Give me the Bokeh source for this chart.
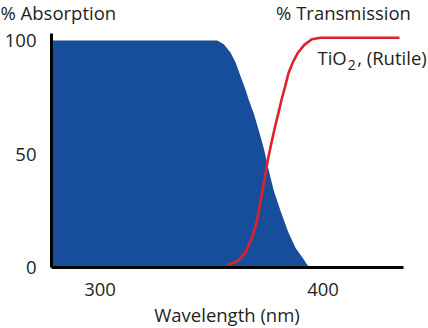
from bokeh.plotting import figure
from bokeh.models import Range1d, FixedTicker, Label
from bokeh.layouts import column
from bokeh.embed import file_html
from bokeh.resources import INLINE

# Absorption curve (blue filled area)
abs_wavelength = [278.25, 352.6, 355.5, 358.5, 360.8, 363.0, 365.2, 366.7, 369.0, 371.2,
                  373.5, 375.7, 377.9, 380.9, 381.7, 384.3, 387.7, 390.7, 392.6, 394.0]
absorption = [100, 100, 98.4, 94.7, 90.3, 84.4, 78.5, 73.9, 67.7, 60.4,
              52.3, 42.7, 33.9, 25.1, 22.9, 15.9, 8.6, 4.5, 1.6, 0]

# Transmission curve of TiO2 (rutile), red line
trans_wavelength = [357.0, 358.5, 362.2, 365.3, 368.3, 370.4, 372.1, 373.7, 375.2, 377.1,
                    378.5, 380.0, 381.4, 383.0, 384.5, 386.3, 388.6, 391.6, 395.0, 398.9, 434.3]
transmission = [1.3, 1.5, 3.1, 6.7, 13.4, 20.7, 29.5, 38.3, 47.1, 56.0,
                62.1, 68.0, 73.9, 79.7, 85.6, 90.0, 94.4, 98.1, 100.6, 101.2, 101.2]

x_ticks = [300, 400]
y_ticks = [0, 50, 100]
x_axis_span = (278.25, 436.1)
y_axis_span = (0, 103.1)

FONT = "Open Sans"
TXT = "#231f20"
BLUE = "#174e9c"
RED = "#e1202d"
FS = "18.5px"


def strip(h):
    f = figure(width=428, height=h, output_backend="svg", toolbar_location=None,
               x_range=Range1d(0, 428), y_range=Range1d(0, h),
               x_axis_location=None, y_axis_location=None,
               min_border_left=0, min_border_right=0, min_border_top=0, min_border_bottom=0)
    f.outline_line_color = None
    f.grid.visible = False
    f.frame_align = False
    return f


def text(fig, x, y, t, align="left", size=FS):
    fig.add_layout(Label(x=x, y=y, text=t, text_font=FONT, text_font_size=size,
                         text_color=TXT, text_baseline="alphabetic", text_align=align))


# --- header strip with the two axis titles ---
head = strip(26)
text(head, 0, 14, "% Absorption")
text(head, 343, 14, "% Transmission", align="center")

# --- main chart ---
p = figure(width=428, height=276, output_backend="svg", toolbar_location=None,
           x_range=Range1d(278.25, 447.3), y_range=Range1d(*y_axis_span),
           min_border_left=51, min_border_right=0, min_border_top=7,
           min_border_bottom=35)
p.outline_line_color = None
p.xgrid.visible = False
p.ygrid.visible = False
p.frame_align = False

p.varea(x=abs_wavelength, y1=0, y2=absorption, fill_color=BLUE, fill_alpha=1.0)
p.line(x=trans_wavelength, y=transmission, line_color=RED, line_width=2.6,
       line_join="round", line_cap="butt")

for ax in (p.xaxis[0], p.yaxis[0]):
    ax.axis_line_width = 3
    ax.axis_line_color = "black"
    ax.major_tick_line_color = None
    ax.minor_tick_line_color = None
    ax.major_tick_out = 0
    ax.major_tick_in = 0
    ax.major_label_text_font = FONT
    ax.major_label_text_font_size = FS
    ax.major_label_text_color = TXT
    ax.major_label_standoff = 15

p.xaxis[0].bounds = x_axis_span
p.yaxis[0].bounds = y_axis_span
p.xaxis[0].ticker = FixedTicker(ticks=x_ticks)
p.yaxis[0].ticker = FixedTicker(ticks=y_ticks)

text(p, 397.5, 92.5, "TiO")
text(p, 411.1, 89.4, "2", size="14px")
text(p, 415.3, 92.5, ", (Rutile)")

# --- footer strip with the x-axis title ---
foot = strip(26)
text(foot, 226.5, 13.8, "Wavelength (nm)", align="center")

layout = column(head, p, foot, spacing=0)
open("out.html", "w").write(file_html(layout, INLINE))
